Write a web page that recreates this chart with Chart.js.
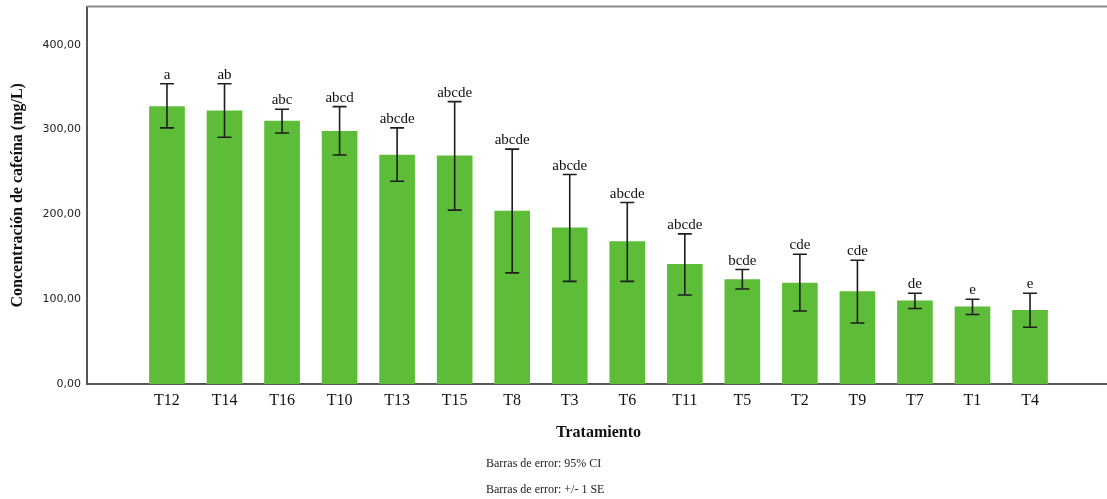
<!DOCTYPE html>
<html>
<head>
<meta charset="utf-8">
<script src="https://cdn.jsdelivr.net/npm/chart.js@4.4.0/dist/chart.umd.min.js"></script>
<style>
  html, body { margin: 0; padding: 0; background: #fff; overflow: hidden; }
  #wrap { position: relative; width: 1107px; height: 499px; overflow: hidden; }
  canvas { position: absolute; left: 0; top: -6px; }
  .note { position: absolute; left: 486px; font: 12px "Liberation Serif", "Times New Roman", serif; color: #222; white-space: nowrap; }
</style>
</head>
<body>
<div id="wrap">
  <canvas id="cafeinaChart" width="1110" height="505"></canvas>
  <div class="note" style="top:456px">Barras de error: 95% CI</div>
  <div class="note" style="top:482px">Barras de error: +/- 1 SE</div>
</div>
<script>
// Data
const tratamientos = ['T12', 'T14', 'T16', 'T10', 'T13', 'T15', 'T8', 'T3', 'T6', 'T11', 'T5', 'T2', 'T9', 'T7', 'T1', 'T4'];
const cafeina = [327, 322, 310, 298, 270, 269, 204, 184, 168, 141, 123, 119, 109, 98, 91, 87];
const errAlto = [354, 354, 324, 327, 302, 333, 277, 247, 214, 177, 135, 153, 146, 107, 100, 107];
const errBajo = [302, 291, 296, 270, 239, 205, 131, 121, 121, 105, 112, 86, 72, 89, 82, 67];
const letras = ['a', 'ab', 'abc', 'abcd', 'abcde', 'abcde', 'abcde', 'abcde', 'abcde', 'abcde', 'bcde', 'cde', 'cde', 'de', 'e', 'e'];
const yTicks = [0, 100, 200, 300, 400];

const serif = '"Liberation Serif", "Times New Roman", serif';

// error bars + letters drawn from the scales
const errorBars = {
    id: 'errorBars',
    afterDatasetsDraw(chart) {
        const ctx = chart.ctx;
        const xs = chart.scales.x, ys = chart.scales.y;
        ctx.save();
        ctx.strokeStyle = '#1e1e1e';
        ctx.lineWidth = 1.6;
        ctx.fillStyle = '#111';
        ctx.font = '15px ' + serif;
        ctx.textAlign = 'center';
        ctx.textBaseline = 'alphabetic';
        tratamientos.forEach((t, i) => {
            const x = xs.getPixelForValue(i);
            const yh = ys.getPixelForValue(errAlto[i]);
            const yl = ys.getPixelForValue(errBajo[i]);
            ctx.beginPath();
            ctx.moveTo(x, yh); ctx.lineTo(x, yl);
            ctx.moveTo(x - 7, yh); ctx.lineTo(x + 7, yh);
            ctx.moveTo(x - 7, yl); ctx.lineTo(x + 7, yl);
            ctx.stroke();
            ctx.fillText(letras[i], x, yh - 5);
        });
        ctx.restore();
    }
};

// top border of the frame
const frame = {
    id: 'frame',
    afterDraw(chart) {
        const a = chart.chartArea, ctx = chart.ctx;
        ctx.save();
        ctx.strokeStyle = '#8a8a8a';
        ctx.lineWidth = 2;
        ctx.beginPath();
        ctx.moveTo(a.left, a.top);
        ctx.lineTo(a.right, a.top);
        ctx.stroke();
        ctx.restore();
    }
};

new Chart(document.getElementById('cafeinaChart'), {
    type: 'bar',
    data: {
        datasets: [{
            data: cafeina.map((v, i) => ({ x: i, y: v })),
            backgroundColor: '#5dbd39',
            borderWidth: 0,
            barThickness: 35
        }]
    },
    options: {
        responsive: false,
        animation: false,
        devicePixelRatio: 1,
        layout: { padding: 0 },
        plugins: { legend: { display: false }, tooltip: { enabled: false } },
        scales: {
            x: {
                type: 'linear',
                offset: false,
                min: -1.39,
                max: tratamientos.length - 1 + 1.39,
                grid: { display: false, drawTicks: false, offset: false },
                border: { display: true, color: '#555', width: 2 },
                afterBuildTicks: (scale) => { scale.ticks = tratamientos.map((t, i) => ({ value: i })); },
                afterFit: (scale) => { scale.height = 115; },
                ticks: {
                    autoSkip: false,
                    maxRotation: 0,
                    padding: 7,
                    color: '#111',
                    font: { family: serif, size: 16 },
                    callback: (v) => tratamientos[v]
                },
                title: {
                    display: true,
                    text: 'Tratamiento',
                    color: '#111',
                    font: { family: serif, size: 16, weight: 'bold' },
                    padding: { top: 0, bottom: 57 }
                }
            },
            y: {
                min: 0,
                max: 445,
                grid: { display: false, drawTicks: false },
                border: { display: true, color: '#555', width: 2 },
                afterBuildTicks: (scale) => { scale.ticks = yTicks.map(v => ({ value: v })); },
                afterFit: (scale) => { scale.width = 87; },
                ticks: {
                    padding: 6,
                    color: '#222',
                    font: { family: '"DejaVu Sans", Verdana, sans-serif', size: 11 },
                    callback: (v) => v.toFixed(2).replace('.', ',')
                },
                title: {
                    display: true,
                    text: 'Concentración de cafeína (mg/L)',
                    color: '#111',
                    font: { family: serif, size: 16, weight: 'bold' },
                    padding: { top: 8, bottom: 0 }
                }
            }
        }
    },
    plugins: [errorBars, frame]
});
</script>
</body>
</html>
